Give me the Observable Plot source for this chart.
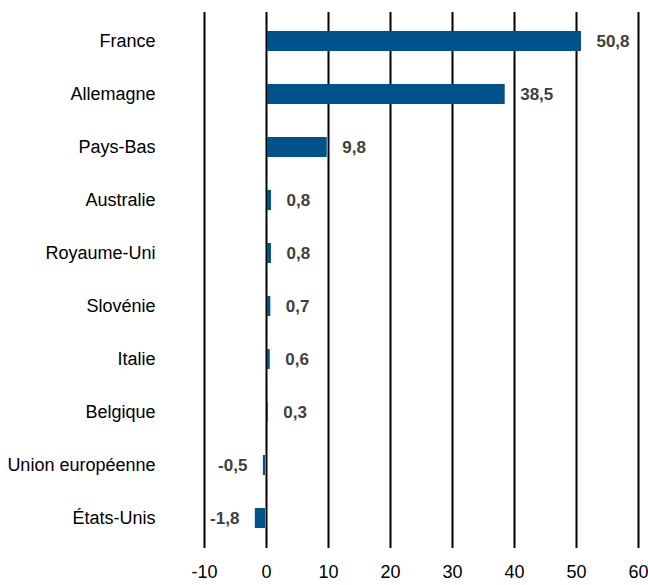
<!DOCTYPE html>
<html>
<head>
<meta charset="utf-8">
<script src="https://cdn.jsdelivr.net/npm/d3@7"></script>
<script src="https://cdn.jsdelivr.net/npm/@observablehq/plot@0.6"></script>
<style>
  body { margin: 0; background: #fff; }
  #chart svg { display: block; }
</style>
</head>
<body>
<div id="chart"></div>
<script>
const countries = ["France", "Allemagne", "Pays-Bas", "Australie", "Royaume-Uni", "Slovénie", "Italie", "Belgique", "Union européenne", "États-Unis"];
const values = [50.8, 38.5, 9.8, 0.8, 0.8, 0.7, 0.6, 0.3, -0.5, -1.8];
const xTicks = [-10, 0, 10, 20, 30, 40, 50, 60];

const data = countries.map((c, i) => ({country: c, value: values[i]}));
const pos = data.filter(d => d.value >= 0);
const neg = data.filter(d => d.value < 0);
const fmt = v => v.toFixed(1).replace(".", ",");
const font = "'Liberation Sans', Arial, sans-serif";

const chart = Plot.plot({
  width: 648,
  height: 585,
  marginLeft: 204,
  marginRight: 10,
  marginTop: 12,
  marginBottom: 37,
  style: {fontFamily: font, fontSize: "18px", color: "#000", background: "#fff"},
  x: {domain: [-10, 60], ticks: xTicks, tickFormat: d => String(d), tickSize: 0, tickPadding: 17, label: null},
  y: {domain: countries, paddingInner: 0.62, paddingOuter: 0.31, align: 0.5, tickSize: 0, tickPadding: 49, label: null},
  marks: [
    Plot.ruleX(xTicks, {stroke: "#000", strokeWidth: 2}),
    Plot.barX(pos, {x1: 0, x2: "value", y: "country", fill: "#00538a", insetLeft: 1}),
    Plot.barX(neg, {x1: "value", x2: 0, y: "country", fill: "#00538a", insetRight: 1}),
    Plot.text(pos, {
      x: "value", y: "country", text: d => fmt(d.value),
      textAnchor: "start", dx: 15,
      fill: "#404040", fontWeight: "bold", fontSize: 17
    }),
    Plot.text(neg, {
      x: "value", y: "country", text: d => fmt(d.value),
      textAnchor: "end", dx: -16,
      fill: "#404040", fontWeight: "bold", fontSize: 17
    })
  ]
});
document.getElementById("chart").appendChild(chart);
</script>
</body>
</html>
